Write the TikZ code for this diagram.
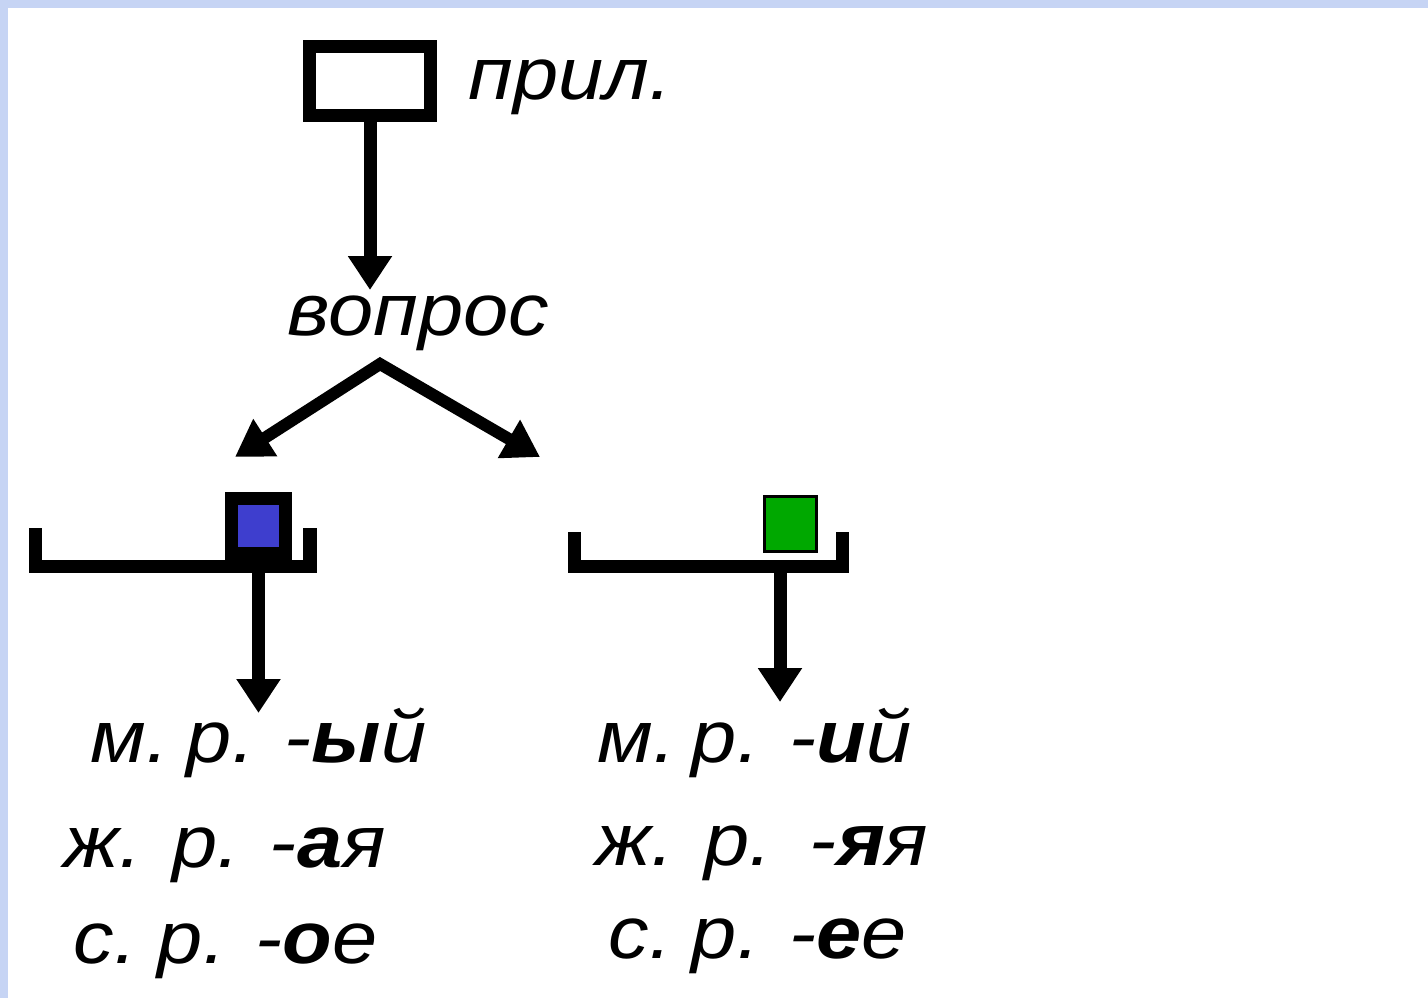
\documentclass[tikz,border=0pt]{standalone}
\usepackage{fontspec}
\setmainfont{Liberation Sans}[FakeStretch=1.1]
\usepackage{tikz}
\usetikzlibrary{arrows.meta}
\definecolor{frameblue}{RGB}{198,212,244}
\definecolor{sqblue}{RGB}{62,62,206}
\definecolor{sqgreen}{RGB}{0,168,0}
\tikzset{arr/.style={line width=1.3mm, -{Triangle[width=4.2mm,length=3.4mm]}}}
\tikzset{brk/.style={line width=1.35mm, line join=miter}}
\tikzset{lbl/.style={font=\fontsize{21}{25}\selectfont\itshape, inner sep=0pt, anchor=base west}}

\begin{document}
\begin{tikzpicture}[x=0.1mm,y=-0.1mm]
  \fill[frameblue] (0,0) rectangle (1428,998);
  \fill[white] (8,8) rectangle (1428,998);
  \useasboundingbox (0,0) rectangle (1428,998);
  % top box and question
  \node[draw, line width=1.3mm, minimum width=12.1mm, minimum height=6.9mm, inner sep=0pt] (box) at (370,81) {};
  \node[lbl] (pril) at (468,100) {прил.};
  \node[lbl] (q) at (287,335) {вопрос};
  \coordinate (qtop) at (370,290);
  \draw[arr] (box.south) -- (qtop);
  \coordinate (apex) at (380,364);
  \coordinate (tipL) at (235,457);
  \coordinate (tipR) at (540,457);
  \draw[line width=1.2mm, line join=miter, {Triangle[width=4.2mm,length=3.6mm]}-{Triangle[width=4.2mm,length=3.6mm]}] (tipL) -- (apex) -- (tipR);
  % brackets with squares
  \draw[brk] (35.5,528) -- (35.5,566.5) -- (310,566.5) -- (310,528);
  \draw[brk] (574.5,532) -- (574.5,566.5) -- (842.5,566.5) -- (842.5,532);
  \node[draw, fill=sqblue, line width=1.3mm, minimum width=5.4mm, minimum height=5.5mm, inner sep=0pt] (sqL) at (258.5,526) {};
  \node[draw, fill=sqgreen, line width=0.3mm, minimum width=5.2mm, minimum height=5.5mm, inner sep=0pt] (sqR) at (790.5,524) {};
  \coordinate (endL) at (258.5,713);
  \coordinate (barR) at (780,566.5);
  \coordinate (endR) at (780,702);
  \draw[arr] (sqL.south) -- (endL);
  \draw[arr] (barR) -- (endR);
  % endings
  \foreach \x/\y/\t/\nm in {
    90/762/{м.\kern-1.2mm{} р. -\textbf{ы}й}/mL,
    63/867/{ж. р. -\textbf{а}я}/zL,
    73/963/{с.\kern-0.9mm{} р. -\textbf{о}е}/sL,
    597/762/{м.\kern-1.4mm{} р. -\textbf{и}й}/mR,
    595/865/{ж. р. \kern0.8mm-\textbf{я}я}/zR,
    608/958/{с.\kern-1mm{} р. -\textbf{е}е}/sR%
  } {
    \node[lbl] (\nm) at (\x,\y) {\t};
  }
\end{tikzpicture}
\end{document}
